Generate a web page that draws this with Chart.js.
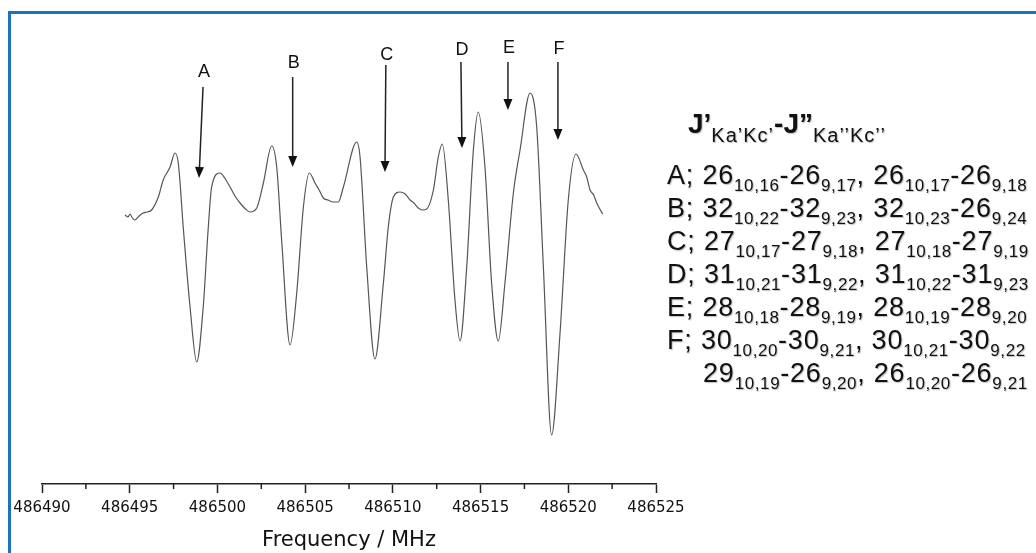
<!DOCTYPE html>
<html>
<head>
<meta charset="utf-8">
<script src="https://cdn.jsdelivr.net/npm/chart.js@4.4.0/dist/chart.umd.min.js"></script>
<style>
    body { margin: 0; background: #fff; overflow: hidden; }
    #frame { position: absolute; left: 8px; top: 11px; width: 1100px; height: 600px; border-top: 3px solid #1a73c0; border-left: 3px solid #1a73c0; }
    #MyChart { position: absolute; left: 0; top: 0; }
    #assign { position: absolute; left: 667px; top: 106px; font-family: "Liberation Sans", Arial, sans-serif; color: #111; white-space: nowrap; text-shadow: 1px 1px 1px rgba(0,0,0,0.25); }
    #assign .hd { height: 36px; line-height: 36px; font-size: 28px; padding-left: 21px; margin-bottom: 17px; }
    #assign .row { height: 33px; line-height: 33px; font-size: 27px; letter-spacing: 0.8px; }
    #assign sub { font-size: 17px; vertical-align: -7px; line-height: 0; letter-spacing: 0.6px; }
    #assign .hd sub { font-size: 20px; vertical-align: -9px; letter-spacing: 1px; }
</style>
</head>
<body>
<div id="frame"></div>
<canvas id="MyChart" width="1036" height="553"></canvas>
<div id="assign">
    <div class="hd"><b>J’</b><sub>Ka’Kc’</sub><b>-J”</b><sub>Ka’’Kc’’</sub></div>
    <div class="row">A; 26<sub>10,16</sub>-26<sub>9,17</sub>, 26<sub>10,17</sub>-26<sub>9,18</sub></div>
    <div class="row">B; 32<sub>10,22</sub>-32<sub>9,23</sub>, 32<sub>10,23</sub>-26<sub>9,24</sub></div>
    <div class="row">C; 27<sub>10,17</sub>-27<sub>9,18</sub>, 27<sub>10,18</sub>-27<sub>9,19</sub></div>
    <div class="row">D; 31<sub>10,21</sub>-31<sub>9,22</sub>, 31<sub>10,22</sub>-31<sub>9,23</sub></div>
    <div class="row">E; 28<sub>10,18</sub>-28<sub>9,19</sub>, 28<sub>10,19</sub>-28<sub>9,20</sub></div>
    <div class="row">F; 30<sub>10,20</sub>-30<sub>9,21</sub>, 30<sub>10,21</sub>-30<sub>9,22</sub></div>
    <div class="row" style="padding-left:36px">29<sub>10,19</sub>-26<sub>9,20</sub>, 26<sub>10,20</sub>-26<sub>9,21</sub></div>
</div>
<script>
// spectrum (frequency in MHz, signal in arbitrary units)
var freq = [486494.73, 486494.90, 486495.02, 486495.15, 486495.30, 486495.48, 486495.60, 486495.77, 486496.00, 486496.25,
    486496.63, 486496.91, 486497.30, 486497.58, 486497.77, 486498.05, 486498.44, 486498.82, 486499.19, 486499.48,
    486499.67, 486500.15, 486500.45, 486500.72, 486501.00, 486501.29, 486501.60, 486501.86, 486502.24, 486502.62,
    486503.09, 486503.38, 486503.66, 486504.14, 486504.52, 486504.90, 486505.24, 486505.56, 486505.80, 486506.04,
    486506.30, 486506.60, 486506.89, 486507.18, 486507.94, 486508.13, 486508.51, 486508.98, 486509.46, 486509.74,
    486510.03, 486510.41, 486510.70, 486510.98, 486511.20, 486511.45, 486511.70, 486511.93, 486512.31, 486512.59,
    486512.82, 486513.16, 486513.54, 486513.83, 486514.21, 486514.59, 486514.87, 486515.25, 486515.63, 486516.01,
    486516.39, 486516.87, 486517.25, 486517.82, 486518.20, 486518.58, 486519.05, 486519.53, 486520.00, 486520.44,
    486520.86, 486521.05, 486521.24, 486521.45, 486521.62, 486521.80, 486521.96];
var intensity = [0, -2, 1, -3, -5, -2, 0, 2, 3, 5,
    18, 35, 48, 62, 52, -12, -92, -147, -92, -12,
    28, 42, 36, 28, 19, 12, 6, 3, 7, 32,
    69, 48, -25, -130, -78, 8, 42, 32, 25, 17,
    15, 13, 13, 28, 73, 58, -52, -144, -68, -12,
    18, 23, 21, 15, 12, 7, 5, 6, 25, 58,
    71, 15, -85, -126, -52, 65, 103, 48, -68, -126,
    -68, 22, 65, 122, 88, -52, -220, -118, 15, 61,
    45, 38, 25, 20, 12, 6, 1];

var xTicksMinor = [486492.5, 486497.5, 486502.5, 486507.5, 486512.5, 486517.5, 486522.5];

// peak markers A-F
var peakNames = ['A', 'B', 'C', 'D', 'E', 'F'];
var arrowTopX = [486499.18, 486504.29, 486509.60, 486513.88, 486516.56, 486519.41];
var arrowTipX = [486498.95, 486504.29, 486509.55, 486513.94, 486516.56, 486519.41];
var arrowTopY = [128, 138, 150, 153, 153, 153];
var arrowTipY = [37, 48, 43, 67, 105, 75];
var nameY = [143, 152, 160, 165, 167, 166];

var peakMarks = {
    id: 'peakMarks',
    afterDraw: function (chart) {
        var c = chart.ctx;
        var xs = chart.scales.x;
        var ys = chart.scales.y;
        c.save();
        c.strokeStyle = '#222';
        c.lineWidth = 1.5;
        // minor ticks
        $each(xTicksMinor, function (v) {
            var px = xs.getPixelForValue(v);
            c.beginPath();
            c.moveTo(px, chart.chartArea.bottom);
            c.lineTo(px, chart.chartArea.bottom + 5);
            c.stroke();
        });
        c.fillStyle = '#111';
        c.font = '18px "Liberation Sans", Arial, sans-serif';
        c.textAlign = 'center';
        c.textBaseline = 'middle';
        for (var i = 0; i < peakNames.length; i++) {
            var x1 = xs.getPixelForValue(arrowTopX[i]);
            var y1 = ys.getPixelForValue(arrowTopY[i]);
            var x2 = xs.getPixelForValue(arrowTipX[i]);
            var y2 = ys.getPixelForValue(arrowTipY[i]);
            var ang = Math.atan2(y2 - y1, x2 - x1);
            var hl = 11, hw = 4.5;
            var bx = x2 - hl * Math.cos(ang), by = y2 - hl * Math.sin(ang);
            c.beginPath();
            c.moveTo(x1, y1);
            c.lineTo(bx, by);
            c.stroke();
            c.beginPath();
            c.moveTo(x2, y2);
            c.lineTo(bx + hw * Math.sin(ang), by - hw * Math.cos(ang));
            c.lineTo(bx - hw * Math.sin(ang), by + hw * Math.cos(ang));
            c.closePath();
            c.fill();
            c.fillText(peakNames[i], x1 + 1, ys.getPixelForValue(nameY[i]));
        }
        c.restore();
    }
};

function $each(arr, fn) {
    for (var i = 0; i < arr.length; i++) fn(arr[i], i);
}

function LoadChart() {
    var points = [];
    $each(freq, function (f, i) {
        points.push({ x: f, y: intensity[i] });
    });
    var ctx = document.getElementById('MyChart').getContext('2d');
    var config = {
        type: 'line',
        data: {
            datasets: [{
                data: points,
                borderColor: '#555',
                borderWidth: 1.2,
                pointRadius: 0,
                fill: false,
                cubicInterpolationMode: 'monotone'
            }]
        },
        options: {
            responsive: false,
            animation: false,
            layout: { padding: { left: 42, right: 380, top: 20, bottom: 0 } },
            plugins: {
                legend: { display: false },
                tooltip: { enabled: false }
            },
            scales: {
                x: {
                    type: 'linear',
                    min: 486490,
                    max: 486525,
                    afterFit: function (scale) { scale.height = 69; },
                    grid: { drawOnChartArea: false, drawTicks: true, tickLength: 9, tickColor: '#222', tickWidth: 1.5 },
                    border: { display: true, color: '#222', width: 1.5 },
                    ticks: {
                        stepSize: 5,
                        padding: 6,
                        autoSkip: false,
                        maxRotation: 0,
                        color: '#111',
                        font: { family: 'DejaVu Sans', size: 15 },
                        callback: function (v) { return String(v); }
                    },
                    title: {
                        display: true,
                        text: 'Frequency / MHz',
                        color: '#111',
                        font: { family: 'DejaVu Sans', size: 21 },
                        padding: { top: 0, bottom: 0 }
                    }
                },
                y: { display: false, min: -269, max: 195 }
            }
        },
        plugins: [peakMarks]
    };
    window.spec = new Chart(ctx, config);
}

LoadChart();
</script>
</body>
</html>
